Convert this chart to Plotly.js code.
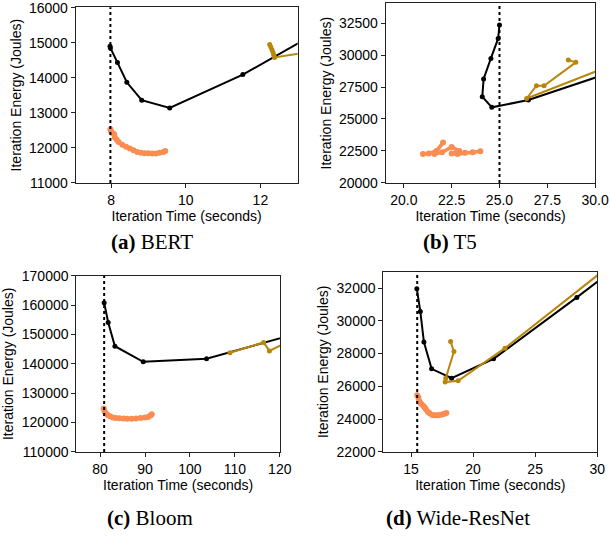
<!DOCTYPE html>
<html>
<head>
<meta charset="utf-8">
<script src="https://cdn.plot.ly/plotly-3.0.1.min.js"></script>
<style>html,body{margin:0;padding:0;background:#fff;}#chart{width:610px;height:537px;}</style>
</head>
<body>
<div id="chart"></div>
<script>
// ---- Data ----
// (a) BERT
const bertBlackX = [7.97, 7.98, 8.17, 8.42, 8.82, 9.57, 11.53, 14.5];
const bertBlackY = [14900, 14850, 14433, 13872, 13360, 13140, 14090, 15875];
const bertGoldX = [12.25, 12.28, 12.31, 12.34, 12.36, 12.38, 14.0];
const bertGoldY = [14950, 14880, 14800, 14720, 14640, 14580, 14850];
const bertOrangeX = [7.98, 8.0, 8.05, 8.08, 8.1, 8.15, 8.2, 8.3, 8.4, 8.5, 8.6, 8.7, 8.8, 8.9, 9.0, 9.1, 9.2, 9.3, 9.4, 9.45];
const bertOrangeY = [12530, 12470, 12410, 12390, 12300, 12230, 12170, 12090, 12030, 11980, 11930, 11880, 11860, 11850, 11850, 11840, 11840, 11860, 11880, 11910];
const bertDeadline = 7.98;

// (b) T5
const t5BlackX = [25.0, 24.93, 24.55, 24.17, 24.1, 24.6, 26.51, 32.0];
const t5BlackY = [32350, 31300, 29740, 28130, 26740, 25910, 26480, 29230];
const t5GoldX = [28.6, 28.99, 27.33, 26.93, 26.42, 32.0];
const t5GoldY = [29620, 29430, 27600, 27600, 26600, 29860];
const t5OrangeX = [21.0, 21.3, 21.7, 22.05, 21.6, 22.0, 22.5, 22.9, 22.5, 22.8, 23.2, 23.6, 24.0];
const t5OrangeY = [22250, 22300, 22500, 23150, 22250, 22400, 22800, 22500, 22300, 22250, 22350, 22400, 22480];
const t5Deadline = 25.0;

// (c) Bloom
const bloomBlackX = [80.9, 81.8, 83.3, 89.6, 103.7, 125.0];
const bloomBlackY = [160800, 154100, 146000, 140700, 141750, 150800];
const bloomGoldX = [108.9, 116.4, 117.7, 122.0];
const bloomGoldY = [143800, 147300, 144400, 147750];
const bloomOrangeX = [80.8, 81.0, 81.3, 81.7, 82.2, 82.8, 83.5, 84.3, 85.2, 86.0, 87.0, 88.0, 89.0, 90.0, 90.7, 91.2, 91.5];
const bloomOrangeY = [124800, 123800, 123100, 122600, 122100, 121750, 121550, 121450, 121350, 121300, 121300, 121400, 121500, 121700, 121900, 122400, 122800];
const bloomDeadline = 80.9;

// (d) Wide-ResNet
const wrnBlackX = [15.47, 15.75, 16.04, 16.66, 18.27, 21.65, 28.36, 32.0];
const wrnBlackY = [31950, 30570, 28700, 27070, 26500, 27680, 31430, 33520];
const wrnGoldX = [18.19, 18.46, 17.8, 17.75, 18.8, 22.57, 32.0];
const wrnGoldY = [28730, 28120, 26500, 26260, 26340, 28330, 33960];
const wrnOrangeX = [15.5, 15.6, 15.65, 15.75, 15.85, 16.0, 16.1, 16.2, 16.35, 16.5, 16.7, 16.9, 17.1, 17.3, 17.5, 17.7, 17.85];
const wrnOrangeY = [25450, 25300, 25100, 25000, 24900, 24800, 24700, 24600, 24450, 24350, 24250, 24230, 24230, 24250, 24280, 24320, 24370];
const wrnDeadline = 15.5;

// Tick values
const bertXTicks = [8, 10, 12];
const bertYTicks = [11000, 12000, 13000, 14000, 15000, 16000];
const t5XTicks = [20, 22.5, 25, 27.5, 30];
const t5YTicks = [20000, 22500, 25000, 27500, 30000, 32500];
const bloomXTicks = [80, 90, 100, 110, 120];
const bloomYTicks = [110000, 120000, 130000, 140000, 150000, 160000, 170000];
const wrnXTicks = [15, 20, 25, 30];
const wrnYTicks = [22000, 24000, 26000, 28000, 30000, 32000];

// ---- Styles ----
const BLACK = '#000000', GOLD = '#b8860b', ORANGE = '#fb8c52';

function black(x, y, xa, ya) {
  return {x, y, xaxis: xa, yaxis: ya, type: 'scatter', mode: 'lines+markers',
    line: {color: BLACK, width: 2}, marker: {color: BLACK, size: 5}, cliponaxis: true, showlegend: false};
}
function gold(x, y, xa, ya) {
  return {x, y, xaxis: xa, yaxis: ya, type: 'scatter', mode: 'lines+markers',
    line: {color: GOLD, width: 2}, marker: {color: GOLD, size: 5}, cliponaxis: true, showlegend: false};
}
function orange(x, y, xa, ya) {
  return {x, y, xaxis: xa, yaxis: ya, type: 'scatter', mode: 'lines+markers',
    line: {color: ORANGE, width: 3.5}, marker: {color: ORANGE, size: 6}, cliponaxis: true, showlegend: false};
}

const data = [
  orange(bertOrangeX, bertOrangeY, 'x', 'y'),
  black(bertBlackX, bertBlackY, 'x', 'y'),
  gold(bertGoldX, bertGoldY, 'x', 'y'),
  orange(t5OrangeX, t5OrangeY, 'x2', 'y2'),
  black(t5BlackX, t5BlackY, 'x2', 'y2'),
  gold(t5GoldX, t5GoldY, 'x2', 'y2'),
  orange(bloomOrangeX, bloomOrangeY, 'x3', 'y3'),
  black(bloomBlackX, bloomBlackY, 'x3', 'y3'),
  gold(bloomGoldX, bloomGoldY, 'x3', 'y3'),
  orange(wrnOrangeX, wrnOrangeY, 'x4', 'y4'),
  black(wrnBlackX, wrnBlackY, 'x4', 'y4'),
  gold(wrnGoldX, wrnGoldY, 'x4', 'y4')
];

const tickFont = {family: 'Liberation Sans, Arial, sans-serif', size: 14, color: '#000'};
const titleFont = {family: 'Liberation Sans, Arial, sans-serif', size: 14, color: '#000'};

function xax(domain, range, anchor, extra) {
  return Object.assign({domain, range, anchor, showgrid: false, zeroline: false, showline: true, mirror: true,
    linecolor: '#222', linewidth: 1, ticks: 'outside', ticklen: 4, tickcolor: '#222', tickfont: tickFont,
    tickformat: 'd', ticklabeloverflow: 'allow',
    title: {text: 'Iteration Time (seconds)', font: titleFont, standoff: 3}, automargin: false}, extra || {});
}
function yax(domain, range, anchor, extra) {
  return Object.assign({domain, range, anchor, showgrid: false, zeroline: false, showline: true, mirror: true,
    linecolor: '#222', linewidth: 1, ticks: 'outside', ticklen: 4, tickcolor: '#222', tickfont: tickFont,
    tickformat: 'd', ticklabeloverflow: 'allow',
    title: {text: 'Iteration Energy (Joules)', font: titleFont, standoff: 4}, automargin: false}, extra || {});
}

function deadline(xv, xref, yref) {
  return {type: 'line', xref: xref, yref: yref + ' domain', x0: xv, x1: xv, y0: 0, y1: 1,
    line: {color: BLACK, width: 2, dash: 'dot'}};
}

const capFont = {family: 'Liberation Serif, Times New Roman, serif', size: 21, color: '#000'};

const layout = {
  width: 610, height: 537,
  margin: {l: 0, r: 0, t: 0, b: 0},
  paper_bgcolor: '#fff', plot_bgcolor: '#fff',
  showlegend: false,
  xaxis: xax([0.1241, 0.4880], [7.05, 13], 'y', {tickvals: bertXTicks}),
  yaxis: yax([0.6592, 0.9864], [10999, 16010], 'x', {tickvals: bertYTicks}),
  xaxis2: xax([0.6323, 0.9759], [19.05, 30.01], 'y2', {tickvals: t5XTicks, tickformat: '.1f'}),
  yaxis2: yax([0.6592, 0.9939], [19990, 34050], 'x2', {tickvals: t5YTicks}),
  xaxis3: xax([0.1251, 0.4590], [74.7, 120.05], 'y3', {tickvals: bloomXTicks}),
  yaxis3: yax([0.1583, 0.4866], [109950, 170050], 'x3', {tickvals: bloomYTicks}),
  xaxis4: xax([0.6284, 0.9792], [12.77, 30.01], 'y4', {tickvals: wrnXTicks}),
  yaxis4: yax([0.1583, 0.4941], [21990, 33000], 'x4', {tickvals: wrnYTicks}),
  shapes: [
    deadline(bertDeadline, 'x', 'y'),
    deadline(t5Deadline, 'x2', 'y2'),
    deadline(bloomDeadline, 'x3', 'y3'),
    deadline(wrnDeadline, 'x4', 'y4')
  ],
  annotations: [
    {text: '<b>(a)</b> BERT', xref: 'paper', yref: 'paper', x: 0.249, y: 0.549, showarrow: false, font: capFont, xanchor: 'center', yanchor: 'middle'},
    {text: '<b>(b)</b> T5', xref: 'paper', yref: 'paper', x: 0.738, y: 0.549, showarrow: false, font: capFont, xanchor: 'center', yanchor: 'middle'},
    {text: '<b>(c)</b> Bloom', xref: 'paper', yref: 'paper', x: 0.246, y: 0.035, showarrow: false, font: capFont, xanchor: 'center', yanchor: 'middle'},
    {text: '<b>(d)</b> Wide-ResNet', xref: 'paper', yref: 'paper', x: 0.751, y: 0.035, showarrow: false, font: capFont, xanchor: 'center', yanchor: 'middle'}
  ]
};

Plotly.newPlot('chart', data, layout, {displayModeBar: false, staticPlot: true});
</script>
</body>
</html>
